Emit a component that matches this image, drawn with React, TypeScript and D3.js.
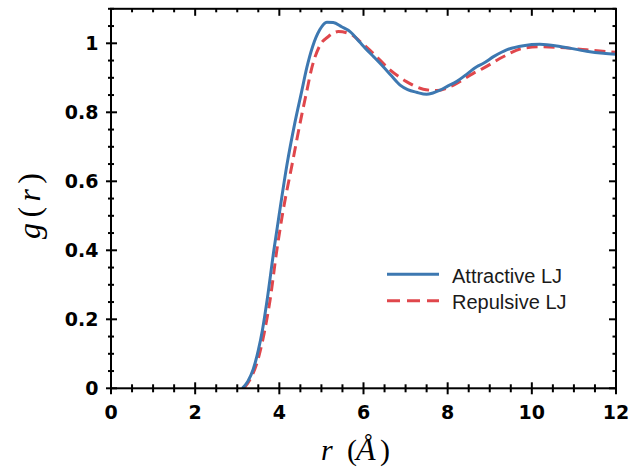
import React from "react";
import * as d3 from "d3";

const attractiveR = [3.12, 3.25, 3.38, 3.5, 3.6, 3.71, 3.87, 3.98, 4.18, 4.37, 4.53, 4.65, 4.79, 4.96, 5.13, 5.28, 5.48, 5.68, 5.92, 6.04, 6.25, 6.47, 6.67, 6.87, 7.05, 7.26, 7.5, 7.65, 7.82, 8.0, 8.21, 8.45, 8.69, 8.85, 9.1, 9.4, 9.8, 10.19, 10.67, 11.3, 11.7, 12];
const attractiveG = [0, 0.02, 0.055, 0.11, 0.17, 0.256, 0.4, 0.49, 0.647, 0.77, 0.86, 0.928, 0.99, 1.039, 1.061, 1.06, 1.048, 1.034, 1.002, 0.986, 0.96, 0.932, 0.905, 0.879, 0.866, 0.858, 0.852, 0.856, 0.864, 0.876, 0.889, 0.91, 0.932, 0.942, 0.962, 0.981, 0.993, 0.997, 0.991, 0.977, 0.971, 0.968];

const repulsiveR = [3.16, 3.3, 3.46, 3.64, 3.78, 3.94, 4.08, 4.3, 4.54, 4.65, 4.77, 4.97, 5.16, 5.4, 5.64, 5.76, 5.92, 6.23, 6.63, 7.02, 7.42, 7.74, 8.14, 8.61, 8.85, 9.32, 9.8, 10.19, 10.67, 11.3, 12];
const repulsiveG = [0, 0.025, 0.07, 0.16, 0.256, 0.4, 0.508, 0.647, 0.797, 0.86, 0.928, 0.995, 1.019, 1.034, 1.029, 1.022, 1.005, 0.971, 0.923, 0.889, 0.867, 0.863, 0.879, 0.913, 0.928, 0.961, 0.986, 0.99, 0.988, 0.981, 0.974];

const xMajorTicks = [0, 2, 4, 6, 8, 10, 12];
const yMajorTicks = [0, 0.2, 0.4, 0.6, 0.8, 1];
const yTickLabels = ["0", "0.2", "0.4", "0.6", "0.8", "1"];
const legendLabels = ["Attractive LJ", "Repulsive LJ"];

const BLUE = "#3d78b1";
const RED = "#e0474c";

export default function App() {
  const W = 641, H = 468;
  const left = 111, right = 616, top = 8.8, bottom = 388.3;
  const x = d3.scaleLinear().domain([0, 12]).range([left, right]);
  const y = d3.scaleLinear().domain([0, 1.1]).range([bottom, top]);

  const xMinor = d3.range(0, 12.001, 0.5);
  const yMinor = d3.range(0, 1.1001, 0.05).map((v) => Math.round(v * 100) / 100);

  const line = d3
    .line<[number, number]>()
    .x((d) => x(d[0]))
    .y((d) => y(d[1]))
    .curve(d3.curveMonotoneX);

  const aData = attractiveR.map((r, i) => [r, attractiveG[i]] as [number, number]);
  const rData = repulsiveR.map((r, i) => [r, repulsiveG[i]] as [number, number]);

  const isMajorX = (v: number) => Math.abs(v / 2 - Math.round(v / 2)) < 1e-6;
  const isMajorY = (v: number) => Math.abs(v / 0.2 - Math.round(v / 0.2)) < 1e-6;

  const serif = "Liberation Serif";

  return (
    <svg width={W} height={H} style={{ position: "absolute", left: 0, top: 0, background: "#fff" }}>
      <rect x={0} y={0} width={W} height={H} fill="#fff" />
      <defs>
        <clipPath id="plotclip">
          <rect x={left} y={top} width={right - left} height={bottom - top} />
        </clipPath>
      </defs>
      <g clipPath="url(#plotclip)">
        <path d={line(rData) || ""} fill="none" stroke={RED} strokeWidth={3} strokeDasharray="11,6" />
        <path d={line(aData) || ""} fill="none" stroke={BLUE} strokeWidth={3} />
      </g>
      {/* frame */}
      <rect x={left} y={top} width={right - left} height={bottom - top} fill="none" stroke="#000" strokeWidth={2} />
      {/* x ticks */}
      {xMinor.map((v, i) => {
        const maj = isMajorX(v);
        const px = x(v);
        return (
          <g key={"xt" + i}>
            <line x1={px} x2={px} y1={bottom - (maj ? 6 : 4)} y2={bottom + (maj ? 6 : 4)} stroke="#000" strokeWidth={2} />
            <line x1={px} x2={px} y1={top} y2={top + (maj ? 7 : 3.5)} stroke="#000" strokeWidth={2} />
          </g>
        );
      })}
      {yMinor.map((v, i) => {
        const maj = isMajorY(v);
        const py = y(v);
        return (
          <g key={"yt" + i}>
            <line x1={left - (maj ? 5 : 3)} x2={left + (maj ? 6 : 3)} y1={py} y2={py} stroke="#000" strokeWidth={2} />
            <line x1={right - (maj ? 7 : 3.5)} x2={right} y1={py} y2={py} stroke="#000" strokeWidth={2} />
          </g>
        );
      })}
      {/* tick labels */}
      {xMajorTicks.map((v) => (
        <text key={"xl" + v} x={x(v)} y={419} textAnchor="middle" fontFamily="DejaVu Sans" fontWeight="bold" fontSize={19} fill="#000">
          {String(v)}
        </text>
      ))}
      {yMajorTicks.map((v, i) => (
        <text key={"yl" + v} x={98.5} y={y(v) + 6.8} textAnchor="end" fontFamily="DejaVu Sans" fontWeight="bold" fontSize={19} fill="#000">
          {yTickLabels[i]}
        </text>
      ))}
      {/* x axis title: r (Å) */}
      <text x={321} y={460} fontFamily={serif} fontStyle="italic" fontSize={30} fill="#000">r</text>
      <text x={347} y={460} fontFamily={serif} fontSize={30} fill="#000">(</text>
      <text x={356} y={460} fontFamily={serif} fontStyle="italic" fontSize={32} fill="#000">Å</text>
      <text x={380} y={460} fontFamily={serif} fontSize={30} fill="#000">)</text>
      {/* y axis title: g(r) */}
      <text
        transform={`translate(40,206) rotate(-90)`}
        textAnchor="middle"
        fontFamily={serif}
        fontSize={32}
        fill="#000"
        textLength={66}
        lengthAdjust="spacing"
      >
        <tspan fontStyle="italic">g</tspan>
        <tspan>(</tspan>
        <tspan fontStyle="italic">r</tspan>
        <tspan>)</tspan>
      </text>
      {/* legend */}
      <line x1={387} x2={439} y1={274.3} y2={274.3} stroke={BLUE} strokeWidth={3} />
      <line x1={387} x2={439} y1={300.7} y2={300.7} stroke={RED} strokeWidth={3} strokeDasharray="13,7" />
      <text x={452} y={283} fontFamily="Liberation Sans" fontSize={20} fill="#1a1a1a">{legendLabels[0]}</text>
      <text x={452} y={308.5} fontFamily="Liberation Sans" fontSize={20} fill="#1a1a1a">{legendLabels[1]}</text>
    </svg>
  );
}
